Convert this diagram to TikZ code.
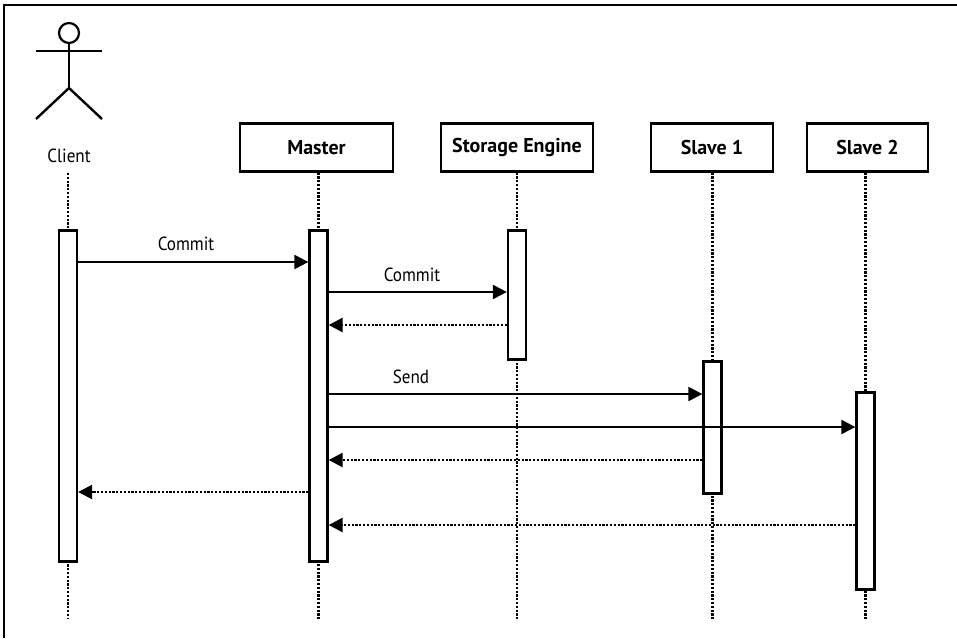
\documentclass[tikz,border=0pt]{standalone}
\usepackage{fontspec}
\setmainfont{PT Sans}
\newfontfamily\lblfont{PT Sans}[FakeStretch=0.9]
\usetikzlibrary{arrows.meta}
\begin{document}
\begin{tikzpicture}[x=1pt,y=-1pt,
  every node/.style={font=\lblfont\fontsize{19}{21}\selectfont},
  headbox/.style={draw,line width=2.3pt,minimum width=#1,minimum height=48pt,inner sep=0pt,font=\fontsize{20}{22}\selectfont\bfseries,fill=white},
  actbar/.style={draw,line width=2.3pt,fill=white,minimum width=18pt,minimum height=#1,inner sep=0pt},
  lifeline/.style={line width=2.6pt,dash pattern=on 2.2pt off 1.6pt},
  msg/.style={line width=2.2pt,-{Triangle[length=14pt,width=14pt]}},
  ret/.style={line width=2.6pt,dash pattern=on 2.2pt off 1.6pt,-{Triangle[length=14pt,width=14pt]}},
  lbl/.style={inner sep=0pt,anchor=base}]
\useasboundingbox (0,0) rectangle (957,638);
\draw[line width=2pt] (4,638) -- (4,5) -- (957,5);

% actor
\node[draw,circle,line width=2.2pt,minimum size=20pt,inner sep=0pt] (head) at (69,33) {};
\coordinate (hip) at (69,88);
\draw[line width=2.4pt] (head.south) -- (hip);
\draw[line width=2.4pt] (36,51) -- (102,51);
\draw[line width=2.4pt] (36,119) -- (hip) -- (102,119);
\node[lbl] (client) at (69,162) {Client};

% header boxes
\node[headbox=153pt] (master) at (316.5,147.5) {Master};
\node[headbox=152pt] (storage) at (517,147.5) {Storage Engine};
\node[headbox=122pt] (slave1) at (712,147.5) {Slave 1};
\node[headbox=121pt] (slave2) at (867.5,147.5) {Slave 2};

% lifeline ends
\coordinate (cl0) at (68,173);
\coordinate (cl1) at (68,619);
\coordinate (ml1) at (318.5,619);
\coordinate (sl1) at (517,619);
\coordinate (s1l1) at (712.5,619);
\coordinate (s2l1) at (865.5,619);

\draw[lifeline] (cl0) -- (cl1);
\draw[lifeline] (master.south -| ml1) -- (ml1);
\draw[lifeline] (storage.south -| sl1) -- (sl1);
\draw[lifeline] (slave1.south -| s1l1) -- (s1l1);
\draw[lifeline] (slave2.south -| s2l1) -- (s2l1);

% activation bars
\node[actbar=331pt] (ca) at (68,396) {};
\node[actbar=331pt] (ma) at (318.5,396) {};
\node[actbar=129pt] (sa) at (517,295) {};
\node[actbar=132pt] (s1a) at (712.5,427.5) {};
\node[actbar=197pt] (s2a) at (865.5,491) {};

% message rows
\coordinate (y1) at (0,262);
\coordinate (y2) at (0,292);
\coordinate (y3) at (0,325);
\coordinate (y4) at (0,394);
\coordinate (y5) at (0,427);
\coordinate (y6) at (0,460);
\coordinate (y7) at (0,492);
\coordinate (y8) at (0,525);

\draw[msg] (ca.east |- y1) -- (ma.west |- y1);
\node[lbl] (l1) at (186,250) {Commit};
\draw[msg] (ma.east |- y2) -- (sa.west |- y2);
\node[lbl] (l2) at (412,281) {Commit};
\draw[ret] (sa.west |- y3) -- (ma.east |- y3);
\draw[msg] (ma.east |- y4) -- (s1a.west |- y4);
\node[lbl] (l3) at (411,383) {Send};
\draw[msg] (ma.east |- y5) -- (s2a.west |- y5);
\draw[ret] (s1a.west |- y6) -- (ma.east |- y6);
\draw[ret] (ma.west |- y7) -- (ca.east |- y7);
\draw[ret] (s2a.west |- y8) -- (ma.east |- y8);
\end{tikzpicture}
\end{document}
